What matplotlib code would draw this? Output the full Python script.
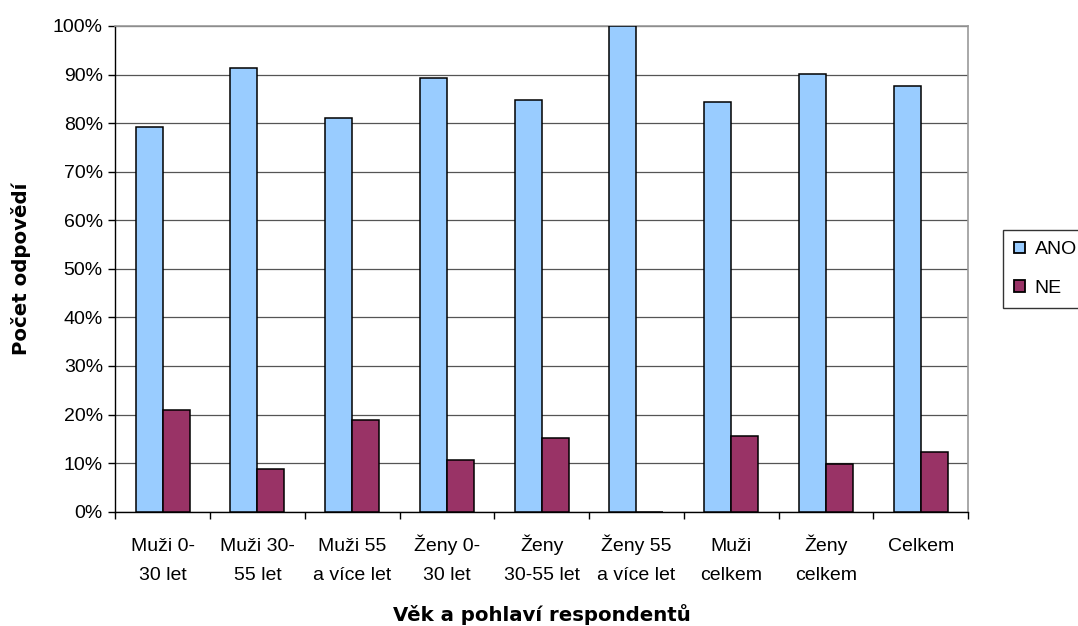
import matplotlib
matplotlib.use("Agg")
import matplotlib.pyplot as plt
import matplotlib.transforms as mtransforms
import numpy as np
from matplotlib.ticker import FixedLocator, PercentFormatter

plt.rcParams['font.family'] = ['Liberation Sans', 'DejaVu Sans']

categories = ["Muži 0-\n30 let", "Muži 30-\n55 let", "Muži 55\na více let",
              "Ženy 0-\n30 let", "Ženy\n30-55 let", "Ženy 55\na více let",
              "Muži\ncelkem", "Ženy\ncelkem", "Celkem"]
ano = [79.1, 91.3, 81.1, 89.3, 84.8, 100.0, 84.4, 90.1, 87.7]
ne = [20.9, 8.7, 18.9, 10.7, 15.2, 0.0, 15.6, 9.9, 12.3]
series_names = ["ANO", "NE"]
colors = ["#99CCFF", "#993366"]

FS = 14

fig = plt.figure(figsize=(10.78, 6.26), dpi=100)
ax = fig.add_axes([0.107, 0.1826, 0.791, 0.7759])

x = np.arange(len(categories))
w = 0.285
ax.bar(x - w / 2, ano, width=w, color=colors[0], edgecolor="black", linewidth=1.1,
       label=series_names[0], zorder=3)
ax.bar(x + w / 2, ne, width=w, color=colors[1], edgecolor="black", linewidth=1.1,
       label=series_names[1], zorder=3)

ax.set_xlim(-0.5, len(categories) - 0.5)
ax.set_ylim(0, 100)
ax.set_yticks(np.arange(0, 101, 10))
ax.yaxis.set_major_formatter(PercentFormatter(decimals=0))
ax.grid(axis="y", color="#555555", linewidth=0.9, zorder=0)

# category labels: each line placed on a common baseline
ax.set_xticks(x)
ax.set_xticklabels([""] * len(categories))
trans = mtransforms.blended_transform_factory(ax.transData, ax.transAxes)
row_y = [-0.0809, -0.1406]
for xi, cat in zip(x, categories):
    for line, yy in zip(cat.split("\n"), row_y):
        ax.text(xi, yy, line, transform=trans, ha="center", va="baseline", fontsize=FS)

ax.xaxis.set_minor_locator(FixedLocator(np.arange(-0.5, len(categories), 1.0)))
ax.tick_params(axis="x", which="major", length=0)
ax.tick_params(axis="x", which="minor", length=5, width=1.0, color="black", direction="out")
ax.tick_params(axis="y", length=5, width=1.0, direction="out", labelsize=FS, pad=4)

for side in ["top", "right"]:
    ax.spines[side].set_color("#999999")
    ax.spines[side].set_linewidth(1.2)
for side in ["left", "bottom"]:
    ax.spines[side].set_color("black")
    ax.spines[side].set_linewidth(1.0)

ax.set_xlabel("Věk a pohlaví respondentů", fontsize=14.2, fontweight="bold",
              family=["DejaVu Sans"])
ax.xaxis.set_label_coords(0.5, -0.19)
ax.set_ylabel("Počet odpovědí", fontsize=14.2, fontweight="bold",
              family=["DejaVu Sans"])
ax.yaxis.set_label_coords(-0.099, 0.5)

leg = ax.legend(loc="upper left", bbox_to_anchor=(1003 / 1078, 1 - 230 / 626),
                bbox_transform=fig.transFigure, borderaxespad=0, frameon=True,
                fancybox=False, edgecolor="black", fontsize=FS, handlelength=0.55,
                handleheight=0.55, handletextpad=0.5, borderpad=0.58, labelspacing=1.1)
leg.get_frame().set_linewidth(1.0)
for h in leg.legend_handles:
    h.set_linewidth(1.3)

fig.savefig("out.png", dpi=100)
